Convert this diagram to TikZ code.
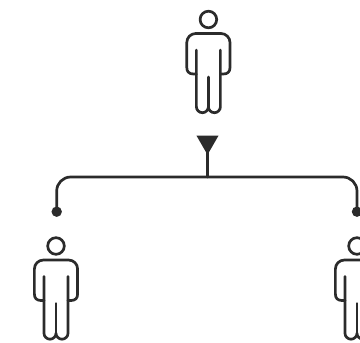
\documentclass[tikz,border=0pt]{standalone}
\usetikzlibrary{shapes.geometric}
\definecolor{inkgray}{HTML}{2B2B2B}
\tikzset{
    person/.pic={
        \draw[inkline] (0,0) circle (8.3);
        \draw[inkline] (-12,-30.5) -- (-12,-87.2) arc (180:360:6) arc (180:360:6) -- (12,-30.5);
        \draw[inkline] (0,-57.5) -- (0,-87.2);
        \draw[inkline] (-12,-54.5) -- (-15,-54.5) .. controls (-19.5,-54.5) and (-21.6,-52) .. (-21.6,-48) -- (-21.6,-23) arc (180:90:9) -- (12.6,-14) arc (90:0:9) -- (21.6,-48) .. controls (21.6,-52) and (19.5,-54.5) .. (15,-54.5) -- (12,-54.5);
    },
    inkline/.style={draw=inkgray, line width=2.7pt, line cap=round, line join=round},
    dotnode/.style={circle, fill=inkgray, minimum size=10.4pt, inner sep=0pt},
    marknode/.style={regular polygon, regular polygon sides=3, shape border rotate=180, fill=inkgray, minimum size=25.5pt, inner sep=0pt}
}
\begin{document}
\begin{tikzpicture}[x=1pt, y=1pt]
    \useasboundingbox (0,0) rectangle (360,-343);
    \clip (0,0) rectangle (360,-343);
    \pic at (208.4,-19.5) {person};
    \pic at (56,-246) {person};
    \pic at (357,-246) {person};
    \node[marknode] (mark) at (207.5,-142) {};
    \node[dotnode] (dotL) at (56.7,-211.7) {};
    \node[dotnode] (dotR) at (357,-211.7) {};
    \coordinate (bar) at (207.5,-177);
    \draw[inkline, rounded corners=14pt] (dotL.center) -- (dotL.center |- bar) -- (dotR.center |- bar) -- (dotR.center);
    \draw[inkline] (mark.center) -- (bar);
\end{tikzpicture}
\end{document}
